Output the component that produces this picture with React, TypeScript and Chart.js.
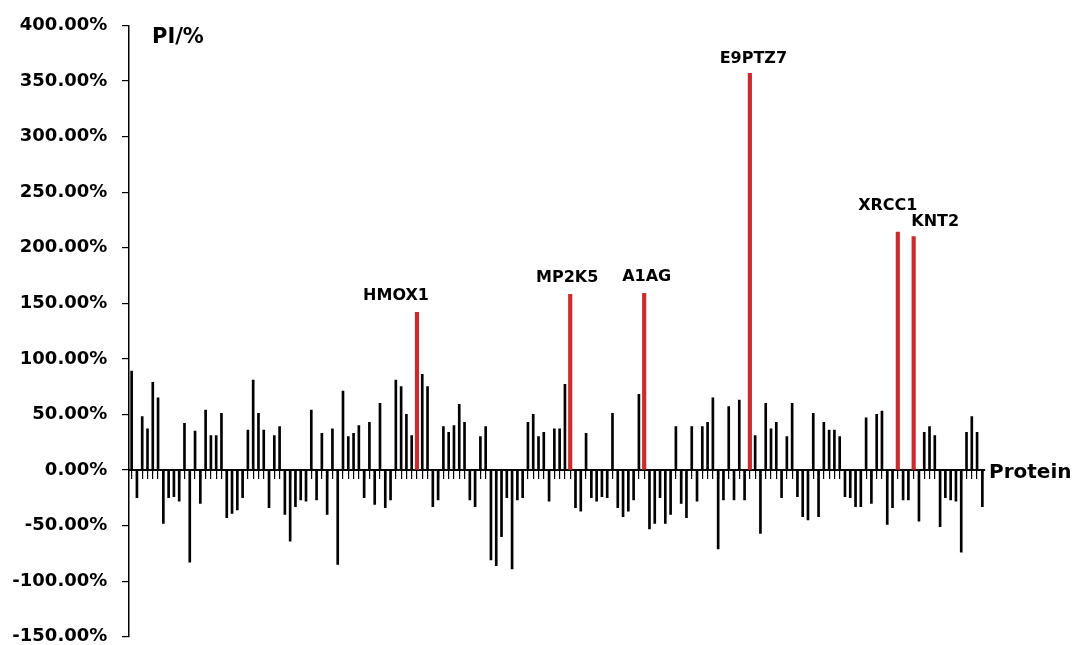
import React, { useEffect, useRef } from "react";
import { Chart, registerables } from "chart.js";

Chart.register(...registerables);

// PI values (%) for each protein, left to right
const piValues: number[] = [
  89, -25, 48, 37, 79, 65, -48, -25, -24, -28,
  42, -83, 35, -30, 54, 31, 31, 51, -43, -39,
  -36, -25, 36, 81, 51, 36, -34, 31, 39, -40,
  -64, -33, -27, -28, 54, -27, 33, -40, 37, -85,
  71, 30, 33, 40, -25, 43, -31, 60, -34, -27,
  81, 75, 50, 31, 142, 86, 75, -33, -27, 39,
  34, 40, 59, 43, -27, -33, 30, 39, -81, -86,
  -60, -25, -89, -27, -25, 43, 50, 30, 34, -28,
  37, 37, 77, 158, -34, -37, 33, -25, -28, -24,
  -25, 51, -34, -42, -37, -27, 68, 159, -53, -48,
  -25, -48, -40, 39, -30, -43, 39, -28, 39, 43,
  65, -71, -27, 57, -27, 63, -27, 357, 31, -57,
  60, 37, 43, -25, 30, 60, -24, -42, -45, 51,
  -42, 43, 36, 36, 30, -24, -25, -33, -33, 47,
  -30, 50, 53, -49, -34, 214, -27, -27, 210, -46,
  34, 39, 31, -51, -25, -27, -28, -74, 34, 48,
  34, -33,
];

// highlighted proteins (red bars) and their positions in piValues
const highlightNames: string[] = ["HMOX1", "MP2K5", "A1AG", "E9PTZ7", "XRCC1", "KNT2"];
const highlightIndex: number[] = [54, 83, 97, 117, 145, 148];

const categories: string[] = piValues.map((_, i) => {
  const k = highlightIndex.indexOf(i);
  return k >= 0 ? highlightNames[k] : "P" + (i + 1);
});

const yMin = -150;
const yMax = 400;
const yStep = 50;

const yAxisTitle = "PI/%";
const xAxisTitle = "Protein";

// pixel offsets of the highlight labels relative to the bar top [dx, dy]
const labelOffsets: number[][] = [
  [-21, -12],
  [-3, -12],
  [2.5, -12],
  [3.5, -10],
  [-10, -22.5],
  [21.5, -10.5],
];

const FONT = '"DejaVu Sans", Verdana, sans-serif';

export default function App() {
  const ref = useRef<HTMLCanvasElement | null>(null);

  useEffect(() => {
    if (!ref.current) return;
    const blackData = piValues.map((v, i) => (highlightIndex.includes(i) ? null : v));
    const redData = piValues.map((v, i) => (highlightIndex.includes(i) ? v : null));

    const textPlugin = {
      id: "texts",
      afterDraw(chart: any) {
        const ctx = chart.ctx;
        const xs = chart.scales.x;
        const ys = chart.scales.y;
        ctx.save();
        ctx.fillStyle = "#000";
        ctx.font = `bold 16px ${FONT}`;
        ctx.textAlign = "center";
        ctx.textBaseline = "alphabetic";
        highlightIndex.forEach((idx, k) => {
          const x = xs.getPixelForValue(idx) + labelOffsets[k][0];
          const y = ys.getPixelForValue(piValues[idx]) + labelOffsets[k][1];
          ctx.fillText(highlightNames[k], x, y);
        });
        ctx.textAlign = "left";
        ctx.font = `bold 21px ${FONT}`;
        ctx.fillText(yAxisTitle, chart.chartArea.left + 23, chart.chartArea.top + 17.5);
        ctx.font = `bold 20px ${FONT}`;
        ctx.fillText(xAxisTitle, chart.chartArea.right + 4, ys.getPixelForValue(0) + 7.5);
        ctx.restore();
      },
    };

    const chart = new Chart(ref.current, {
      type: "bar",
      data: {
        labels: categories,
        datasets: [
          {
            label: "PI",
            data: blackData,
            backgroundColor: "#000000",
            barThickness: 2,
            grouped: false,
          } as any,
          {
            label: "PI highlighted",
            data: redData,
            backgroundColor: "#cc2b2b",
            barThickness: 3.5,
            grouped: false,
          } as any,
        ],
      },
      options: {
        responsive: false,
        animation: false,
        devicePixelRatio: 1,
        layout: { padding: { top: 22.7, bottom: 43.3, left: 0, right: 89 } },
        plugins: {
          legend: { display: false },
          tooltip: { enabled: false },
        },
        scales: {
          x: {
            type: "category",
            position: { y: 0 } as any,
            offset: true,
            grid: {
              display: true,
              drawOnChartArea: false,
              drawTicks: true,
              tickLength: 8,
              offset: false,
              color: "#000",
              lineWidth: 1.2,
            },
            border: { display: true, color: "#000", width: 2 },
            ticks: { display: false, autoSkip: false },
          },
          y: {
            min: yMin,
            max: yMax,
            ticks: {
              stepSize: yStep,
              color: "#000",
              padding: 14.7,
              font: { family: FONT, size: 18, weight: "bold" },
              callback: (v: any) => Number(v).toFixed(2) + "%",
            },
            grid: {
              drawOnChartArea: false,
              drawTicks: true,
              tickLength: 7,
              color: "#000",
              lineWidth: 1.2,
            },
            border: { display: true, color: "#000", width: 1.5 },
            afterFit: (s: any) => {
              s.width = 129;
            },
          },
        },
      },
      plugins: [textPlugin],
    });
    return () => chart.destroy();
  }, []);

  return (
    <div style={{ position: "fixed", left: 0, top: 0, width: 1074, height: 680, background: "#fff" }}>
      <canvas ref={ref} width={1074} height={680} style={{ display: "block" }} />
    </div>
  );
}
